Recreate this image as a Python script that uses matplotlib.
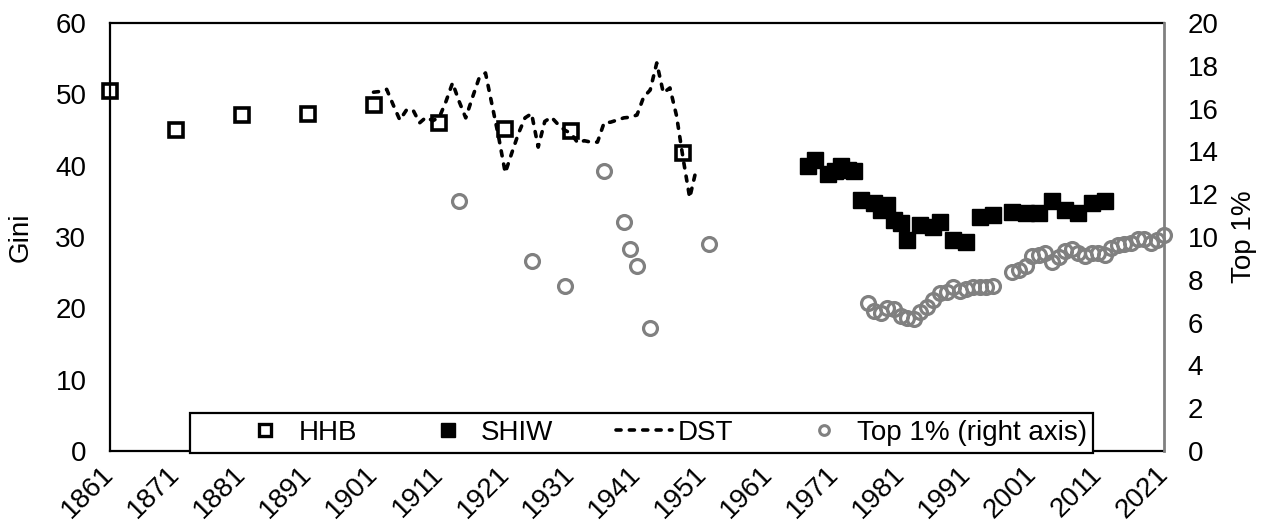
import numpy as np
import matplotlib.pyplot as plt
from matplotlib.lines import Line2D
from matplotlib.patches import Rectangle

# household budget / historical estimates (Gini)
hhb_years = [1861, 1871, 1881, 1891, 1901, 1911, 1921, 1931, 1948]
hhb_gini = [50.4, 45.0, 47.1, 47.3, 48.5, 46.0, 45.1, 44.9, 41.8]

# Bank of Italy survey (Gini)
shiw_years = [1967, 1968, 1970, 1971, 1972, 1973, 1974, 1975, 1977, 1978,
              1979, 1980, 1981, 1982, 1984, 1986, 1987, 1989, 1991, 1993,
              1995, 1998, 2000, 2002, 2004, 2006, 2008, 2010, 2012]
shiw_gini = [39.9, 40.8, 38.9, 39.2, 39.9, 39.4, 39.2, 35.2, 34.7, 33.8,
             34.5, 32.4, 31.9, 29.6, 31.7, 31.4, 32.1, 29.6, 29.3, 32.8,
             33.1, 33.5, 33.3, 33.3, 35.0, 33.8, 33.3, 34.7, 35.0]

# DST annual series (Gini)
dst_years = list(range(1901, 1951))
dst_gini = [50.3, 50.4, 50.7, 48.5, 46.4, 47.8, 47.8, 46.0, 46.8, 46.3,
            46.8, 49.0, 51.6, 49.0, 46.7, 49.5, 52.2, 53.0, 48.5, 44.0,
            39.0, 41.8, 44.5, 46.7, 47.3, 42.6, 46.2, 46.8, 45.8, 45.0,
            44.5, 43.2, 43.5, 43.3, 43.3, 46.0, 46.1, 46.4, 46.7, 46.8,
            47.1, 49.6, 50.6, 54.4, 50.2, 50.9, 47.0, 41.0, 35.5, 39.5]

# top 1% income share, right axis
top_years = [1914, 1925, 1930, 1936, 1939, 1940, 1941, 1943, 1952] + \
    list(range(1976, 1996)) + list(range(1998, 2022))
top_share = [11.7, 8.9, 7.7, 13.1, 10.7, 9.45, 8.65, 5.75, 9.66,
             6.90, 6.56, 6.43, 6.67, 6.62, 6.31, 6.20, 6.15, 6.51, 6.74,
             7.06, 7.37, 7.44, 7.65, 7.49, 7.56, 7.68, 7.68, 7.68, 7.71,
             8.36, 8.46, 8.66, 9.12, 9.15, 9.25, 8.85, 9.06, 9.36, 9.42,
             9.24, 9.11, 9.24, 9.24, 9.16, 9.47, 9.63, 9.67, 9.70, 9.89,
             9.89, 9.70, 9.86, 10.09]

x_ticks = list(range(1861, 2022, 10))

plt.rcParams["font.family"] = ["Liberation Sans", "DejaVu Sans"]
plt.rcParams["font.size"] = 20

DST_STYLE = dict(color="black", lw=2.6, linestyle=(0, (1.4, 2.3)),
                 dash_capstyle="round")

W, H = 1261, 523
fig = plt.figure(figsize=(W / 100, H / 100), dpi=100)
ax = fig.add_axes([110 / W, 72 / H, 1054 / W, 428 / H])
ax2 = ax.twinx()

# left axis series
ax.plot(dst_years, dst_gini, zorder=2, **DST_STYLE)
ax.plot(hhb_years, hhb_gini, linestyle="none", marker="s", ms=9.5,
        mfc="none", mec="black", mew=2.6, zorder=3, clip_on=False)
ax.plot(shiw_years, shiw_gini, linestyle="none", marker="s", ms=11.5,
        color="black", zorder=3)

# right axis series
ax2.plot(top_years, top_share, linestyle="none", marker="o", ms=10,
         mfc="none", mec="#808080", mew=2.3, zorder=2, clip_on=False)

ax.set_xlim(1861, 2021)
ax.set_ylim(0, 60)
ax2.set_ylim(0, 20)
ax.set_yticks(range(0, 61, 10))
ax2.set_yticks(range(0, 21, 2))
ax.set_xticks(x_ticks)
ax.set_xticklabels([str(y) for y in x_ticks], rotation=45, ha="right",
                   va="center", rotation_mode="anchor")

ax.tick_params(axis="both", length=0)
ax.tick_params(axis="y", pad=17)
ax.tick_params(axis="x", pad=14)
ax2.tick_params(axis="y", length=0, pad=17)

for s in ax.spines.values():
    s.set_linewidth(1.6)
    s.set_color("black")
for s in ax2.spines.values():
    s.set_visible(False)
ax2.spines["right"].set_visible(True)
ax2.spines["right"].set_color("#808080")
ax2.spines["right"].set_linewidth(2)
ax.spines["right"].set_visible(False)

ax.set_ylabel("Gini")
ax.yaxis.set_label_coords(-0.072, 0.5)
ax2.set_ylabel("Top 1%")
ax2.yaxis.set_label_coords(1.064, 0.5)

# legend box sitting on the x axis
ax2.add_patch(Rectangle((0.0759, -0.005), 0.8567, 0.0935, transform=ax2.transAxes,
                        facecolor="white", edgecolor="black", lw=1.6,
                        clip_on=False, zorder=4))
handles = [
    Line2D([], [], linestyle="none", marker="s", ms=8, mfc="none", mec="black", mew=2.4),
    Line2D([], [], linestyle="none", marker="s", ms=10, color="black"),
    Line2D([], [], **DST_STYLE),
    Line2D([], [], linestyle="none", marker="o", ms=7, mfc="none", mec="#808080", mew=2.2),
]
labels = ["HHB", "SHIW", "DST", "Top 1% (right axis)"]
leg = ax2.legend(handles, labels, loc="center", bbox_to_anchor=(0.524, 0.042),
                 ncol=4, frameon=False, handlelength=2.0, handletextpad=0.2,
                 columnspacing=2.27, borderaxespad=0, borderpad=0)
leg.set_zorder(5)

fig.savefig("out.png", dpi=100)
